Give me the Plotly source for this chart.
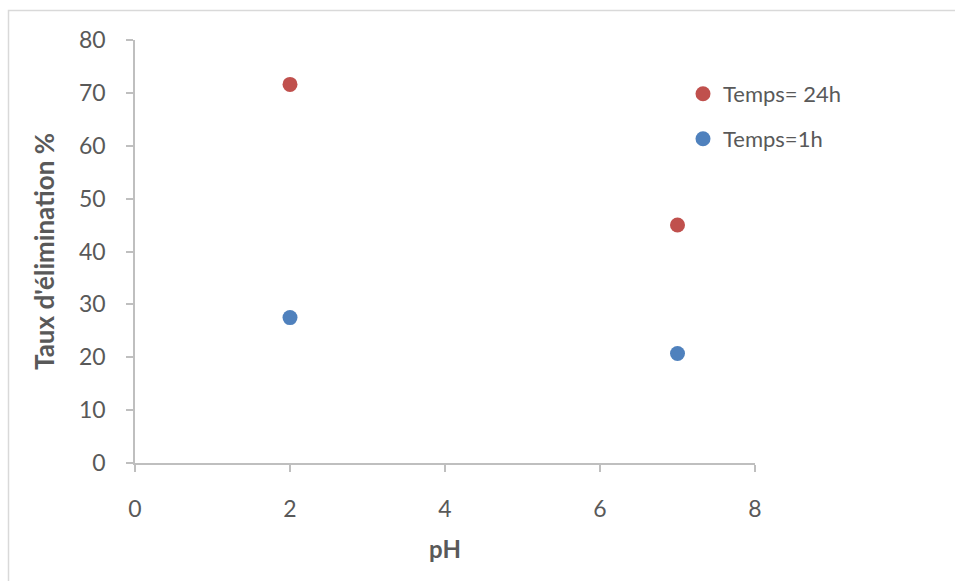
import plotly.graph_objects as go

# Data
ph_values = [2, 7]
taux_24h = [71.6, 45.0]
taux_1h = [27.5, 20.7]
series_names = ["Temps= 24h", "Temps=1h"]
x_ticks = [0, 2, 4, 6, 8]
y_ticks = [0, 10, 20, 30, 40, 50, 60, 70, 80]

RED = "#C0504D"
BLUE = "#4F81BD"
AXIS = "#BFBFBF"
TXT = "#595959"
FONT = "Lato"

W, H = 955, 581
L, R, T, B = 135, 200, 40, 118

fig = go.Figure()
fig.add_trace(go.Scatter(x=ph_values, y=taux_24h, mode="markers", name=series_names[0],
                         marker=dict(color=RED, size=15), legend="legend", showlegend=True))
fig.add_trace(go.Scatter(x=ph_values, y=taux_1h, mode="markers", name=series_names[1],
                         marker=dict(color=BLUE, size=15), legend="legend2", showlegend=True))

pw = W - L - R
ph = H - T - B
def px_x(p):
    return (p - L) / pw
def px_y(p):
    return (H - B - p) / ph

# outer chart frame (decoration)
fig.add_shape(type="path", xref="paper", yref="paper",
              path=f"M {px_x(8.5)} {px_y(620)} L {px_x(8.5)} {px_y(10.5)} L {px_x(990)} {px_y(10.5)}",
              line=dict(color="#D9D9D9", width=1.5), layer="below")

leg_common = dict(font=dict(family=FONT, size=22, color=TXT), bgcolor="rgba(0,0,0,0)",
                  xref="container", yref="container", xanchor="left", yanchor="middle",
                  itemwidth=30, borderwidth=0, visible=True)
fig.update_layout(
    showlegend=True,
    legend=dict(x=683 / W, y=1 - 94 / H, **leg_common),
    legend2=dict(x=683 / W, y=1 - 139 / H, **leg_common),
)

fig.update_layout(
    width=W, height=H,
    margin=dict(l=L, r=R, t=T, b=B, autoexpand=False),
    paper_bgcolor="white", plot_bgcolor="white",
    font=dict(family=FONT, color=TXT),
    xaxis=dict(range=[0, 8], tickvals=x_ticks, showgrid=False, zeroline=False,
               showline=True, linecolor=AXIS, linewidth=1.5,
               ticks="outside", ticklen=7, tickcolor=AXIS, tickwidth=1.5,
               ticklabelstandoff=18,
               tickfont=dict(family=FONT, size=23, color=TXT),
               title=dict(text="<b>pH</b>", font=dict(family=FONT, size=24, color=TXT), standoff=20)),
    yaxis=dict(range=[0, 80], tickvals=y_ticks, showgrid=False, zeroline=False,
               showline=True, linecolor=AXIS, linewidth=1.5,
               ticks="outside", ticklen=7, tickcolor=AXIS, tickwidth=1.5,
               ticklabelstandoff=16,
               tickfont=dict(family=FONT, size=23, color=TXT),
               title=dict(text="<b>Taux d'élimination %</b>", font=dict(family=FONT, size=26, color=TXT), standoff=17)),
)

fig.write_html("out.html")
